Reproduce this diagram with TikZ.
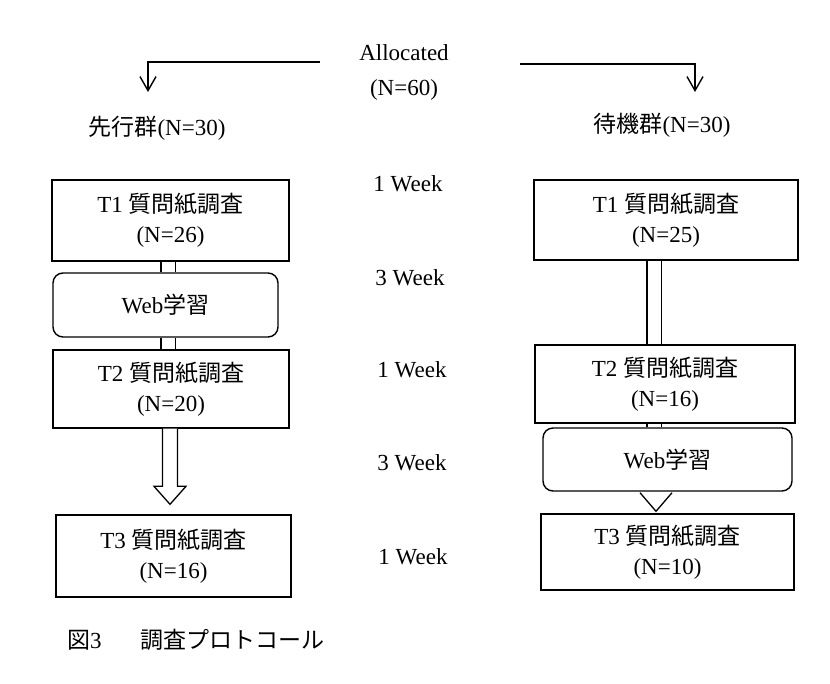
\documentclass[tikz,border=0pt]{standalone}
\usepackage{fontspec}
\setmainfont{Liberation Serif}
\newfontfamily\cjk{Noto Sans CJK JP}
\usetikzlibrary{arrows.meta,calc}
\begin{document}
\begin{tikzpicture}[x=1pt,y=-1pt,
  txt/.style={font=\fontsize{23}{30}\selectfont, inner sep=0pt, align=center},
  box/.style={txt, draw, line width=1.4pt, fill=white},
  rbox/.style={box, rounded corners=10pt},
  link/.style={double, double distance=13pt, line width=1.3pt},
  hollow/.style={draw, line width=1.3pt, fill=white, line join=miter},
  split/.style={line width=1.4pt, -{Straight Barb[length=14pt,width=16pt,line width=1.4pt]}}
]
\useasboundingbox (0,0) rectangle (830,683);

% top
\node[txt, font=\fontsize{23}{35}\selectfont] (alloc) at (404,72) {Allocated\\(N=60)};
\node[txt] (g1) at (157,128) {{\cjk 先行群}(N=30)};
\node[txt] (g2) at (662,125) {{\cjk 待機群}(N=30)};
\coordinate (l0) at (320,62);
\coordinate (l1) at (148,92);
\coordinate (r0) at (520,64);
\coordinate (r1) at (695,92);
\draw[split] (l0) -| (l1);
\draw[split] (r0) -| (r1);

% week labels
\node[txt] (w1) at (408,184) {1 Week};
\node[txt] (w2) at (410,278) {3 Week};
\node[txt] (w3) at (412,370) {1 Week};
\node[txt] (w4) at (412,463) {3 Week};
\node[txt] (w5) at (413,557) {1 Week};

% left column
\node[box, minimum width=237pt, minimum height=81pt] (t1l) at (170.5,220.5) {T1 {\cjk 質問紙調査}\\(N=26)};
\node[rbox, minimum width=225pt, minimum height=64pt] (webl) at (165.5,305) {Web{\cjk 学習}};
\node[box, minimum width=236pt, minimum height=78pt] (t2l) at (171,389) {T2 {\cjk 質問紙調査}\\(N=20)};
\node[box, minimum width=235pt, minimum height=82pt] (t3l) at (173.5,556) {T3 {\cjk 質問紙調査}\\(N=16)};

\coordinate (cl) at (168,0);
\coordinate (ca) at (170,0);
\draw[link] (t1l.south -| cl) -- (webl.north -| cl);
\draw[link] (webl.south -| cl) -- (t2l.north -| cl);
\path (t2l.south -| ca) coordinate (a0) (t3l.north -| ca) coordinate (a1);
\draw[hollow] ($(a0)+(-7.5,0)$) -- ($(a1)+(-7.5,-28)$) -- ($(a1)+(-16,-28)$) -- ($(a1)+(0,-10)$)
  -- ($(a1)+(16,-28)$) -- ($(a1)+(7.5,-28)$) -- ($(a0)+(7.5,0)$);

% right column
\node[box, minimum width=264pt, minimum height=80pt] (t1r) at (666,220) {T1 {\cjk 質問紙調査}\\(N=25)};
\node[box, minimum width=260pt, minimum height=78pt] (t2r) at (665,384) {T2 {\cjk 質問紙調査}\\(N=16)};
\node[rbox, minimum width=249pt, minimum height=63pt] (webr) at (667.5,459.5) {Web{\cjk 学習}};
\node[box, minimum width=253pt, minimum height=76pt] (t3r) at (667.5,552) {T3 {\cjk 質問紙調査}\\(N=10)};

\coordinate (cr) at (654,0);
\coordinate (cb) at (656,0);
\draw[link] (t1r.south -| cr) -- (t2r.north -| cr);
\draw[link] (t2r.south -| cr) -- (webr.north -| cr);
\path (webr.south -| cb) coordinate (b0) (t3r.north -| cb) coordinate (b1);
\draw[hollow] ($(b0)+(-16,1)$) -- ($(b1)+(0,-2)$) -- ($(b0)+(16,1)$);

% caption
\node[txt, anchor=west] (cap1) at (67,640) {{\cjk 図}3};
\node[txt, anchor=west] (cap2) at (140,640) {{\cjk 調査プロトコール}};
\end{tikzpicture}
\end{document}
